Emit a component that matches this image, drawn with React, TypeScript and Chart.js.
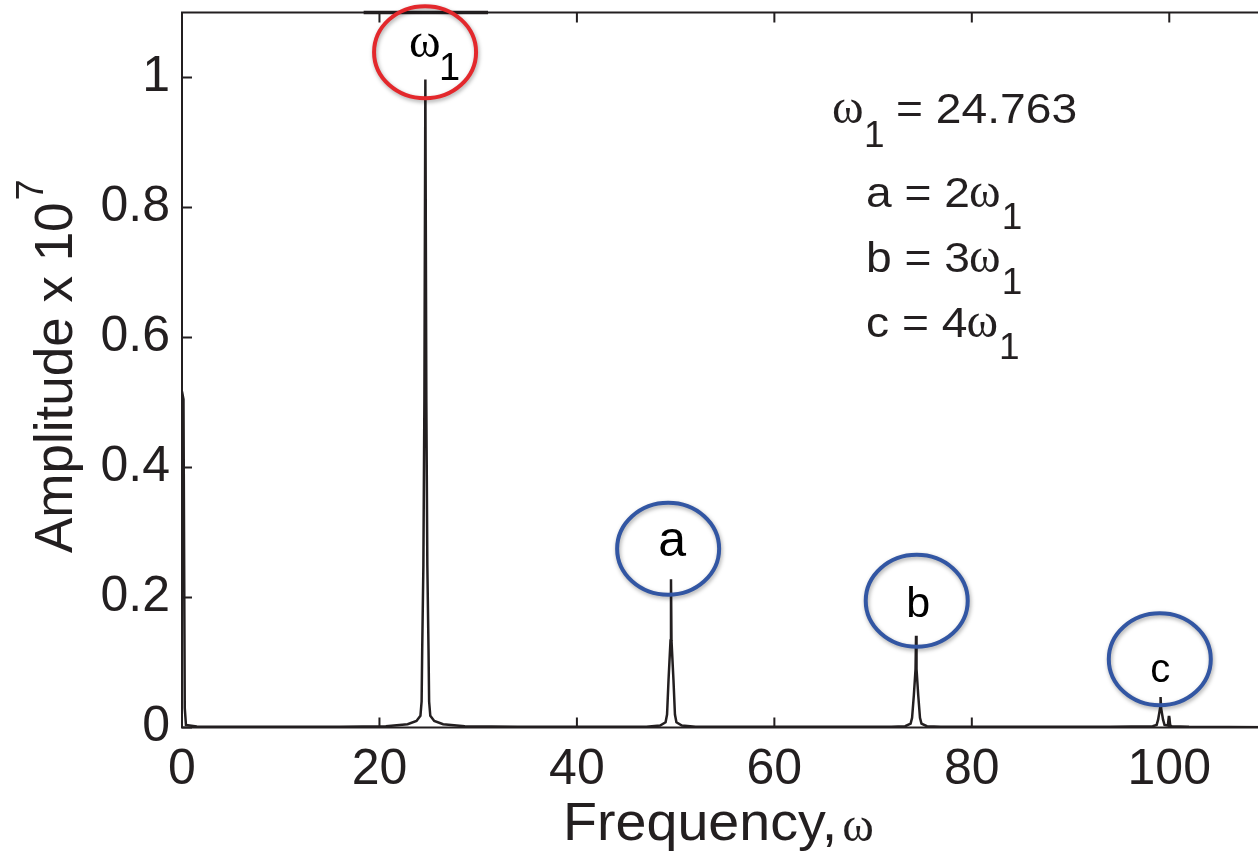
import React, { useEffect, useRef } from 'react';
import { Chart, registerables } from 'chart.js';

Chart.register(...registerables);

// ---- tick values ----
const xTickValues = [0, 20, 40, 60, 80, 100];
const yTickValues = [0, 0.2, 0.4, 0.6, 0.8, 1];

// ---- spectrum (frequency, amplitude x 1e7) ----
const dcFreq = [0, 0.15, 0.28, 0.4, 1.5, 8, 16];
const dcAmp = [0.517, 0.505, 0.03, 0.004, 0.0015, 0.001, 0.0012];

const fundFreq = [20.65, 22.85, 23.75, 24.15, 24.27, 24.33, 24.45, 24.55, 24.65, 24.75, 24.85, 24.97, 25.03, 25.15, 25.55, 26.45, 28.65, 34];
const fundAmp = [0.002, 0.005, 0.01, 0.018, 0.04, 0.12, 0.25, 0.5, 0.997, 0.5, 0.25, 0.12, 0.04, 0.018, 0.01, 0.005, 0.002, 0.001];

const harmAFreq = [44, 47.03, 48.43, 48.98, 49.13, 49.28, 49.48, 49.53, 49.58, 49.78, 49.93, 50.08, 50.63, 52.03, 57];
const harmAAmp = [0.001, 0.001, 0.003, 0.008, 0.02, 0.073, 0.134, 0.228, 0.134, 0.073, 0.02, 0.008, 0.003, 0.001, 0.001];

const harmBFreq = [69, 71.85, 73.25, 73.8, 73.95, 74.13, 74.3, 74.35, 74.4, 74.57, 74.75, 74.9, 75.45, 76.85, 82];
const harmBAmp = [0.001, 0.001, 0.002, 0.006, 0.015, 0.05, 0.09, 0.141, 0.09, 0.05, 0.015, 0.006, 0.002, 0.001, 0.001];

const harmCFreq = [94, 98.32, 98.72, 98.87, 99.07, 99.12, 99.17, 99.37, 99.52, 99.85, 99.95, 100.0, 100.1, 100.25, 102, 110];
const harmCAmp = [0.001, 0.002, 0.004, 0.012, 0.03, 0.047, 0.03, 0.012, 0.004, 0.003, 0.016, 0.016, 0.003, 0.002, 0.001, 0.0005];

// short black bar sitting on the top frame
const topMarkFreq = [18.4, 31.0];
const topMarkAmp = [1.1, 1.1];

// ---- annotation circles (data coordinates of their centres) ----
const circleLabels = ['ω1', 'a', 'b', 'c'];
const circleFreq = [24.62, 49.24, 74.42, 99.04];
const circleAmp = [1.039, 0.275, 0.195, 0.105];
const circleColors = ['#e3282c', '#3256a3', '#3256a3', '#3256a3'];

const INK = '#231f20';
const SANS = "'Liberation Sans', Arial, Helvetica, sans-serif";
const SERIF = "'Liberation Serif', 'Times New Roman', serif";

function zip(xs: number[], ys: number[]) {
  return xs.map((x, i) => ({ x, y: ys[i] }));
}

function txt(ctx: CanvasRenderingContext2D, s: string, x: number, y: number, font: string, sx = 1) {
  ctx.save();
  ctx.translate(x, y);
  ctx.scale(sx, 1);
  ctx.font = font;
  ctx.fillText(s, 0, 0);
  const w = ctx.measureText(s).width * sx;
  ctx.restore();
  return x + w;
}

const decorPlugin = {
  id: 'decor',
  afterDraw(chart: any) {
    const { ctx, chartArea: a, scales } = chart;
    const xs = scales.x;
    const ys = scales.y;
    ctx.save();
    // frame
    ctx.strokeStyle = INK;
    ctx.lineWidth = 2;
    ctx.strokeRect(a.left, a.top, a.right - a.left, a.bottom - a.top);
    // inward ticks
    const tl = 10;
    ctx.beginPath();
    for (const v of xTickValues) {
      const px = xs.getPixelForValue(v);
      ctx.moveTo(px, a.bottom);
      ctx.lineTo(px, a.bottom - tl);
      ctx.moveTo(px, a.top);
      ctx.lineTo(px, a.top + tl);
    }
    for (const v of yTickValues) {
      const py = ys.getPixelForValue(v);
      ctx.moveTo(a.left, py);
      ctx.lineTo(a.left + tl, py);
      ctx.moveTo(a.right, py);
      ctx.lineTo(a.right - tl, py);
    }
    ctx.stroke();

    // circles
    const rx = 51;
    const ry = 46;
    circleLabels.forEach((lab, i) => {
      const cx = xs.getPixelForValue(circleFreq[i]);
      const cy = ys.getPixelForValue(circleAmp[i]);
      ctx.save();
      ctx.shadowColor = 'rgba(0,0,0,0.35)';
      ctx.shadowBlur = 4;
      ctx.shadowOffsetX = 1;
      ctx.shadowOffsetY = 2;
      ctx.strokeStyle = circleColors[i];
      ctx.lineWidth = 4;
      ctx.beginPath();
      ctx.ellipse(cx, cy, rx, ry, 0, 0, Math.PI * 2);
      ctx.stroke();
      ctx.restore();

      ctx.fillStyle = '#000';
      ctx.textBaseline = 'alphabetic';
      if (lab === 'ω1') {
        ctx.textAlign = 'left';
        txt(ctx, 'ω', cx - 16, cy + 5, `48px ${SERIF}`);
        txt(ctx, '1', cx + 14, cy + 28, `38px ${SANS}`);
      } else {
        ctx.textAlign = 'center';
        const size = lab === 'a' ? 50 : lab === 'b' ? 43 : 40;
        const dx = lab === 'a' ? 4 : lab === 'b' ? 1.5 : 0.5;
        const dy = lab === 'a' ? 7 : lab === 'b' ? 16.5 : 23;
        txt(ctx, lab, cx + dx, cy + dy, `${size}px ${SANS}`);
      }
    });

    // text block
    ctx.fillStyle = INK;
    ctx.textAlign = 'left';
    ctx.textBaseline = 'alphabetic';
    const sans = `42px ${SANS}`;
    const sub = `37px ${SANS}`;
    const greek = `48px ${SERIF}`;
    txt(ctx, 'ω', 832, 123, greek);
    txt(ctx, '1', 864, 147, sub);
    txt(ctx, '= 24.763', 896, 123, sans, 1.1);
    const lines = ['a = 2', 'b = 3', 'c = 4'];
    const bases = [207, 272, 337];
    lines.forEach((s, i) => {
      const end = txt(ctx, s, 866, bases[i], sans, 1.1);
      const end2 = txt(ctx, 'ω', end - 1, bases[i], greek);
      txt(ctx, '1', end2 + 1, bases[i] + 22, sub);
    });

    // y axis title
    ctx.save();
    ctx.translate(72, 553);
    ctx.rotate(-Math.PI / 2);
    ctx.font = `53px ${SANS}`;
    ctx.fillText('Amplitude x 10', 0, 0);
    const w = ctx.measureText('Amplitude x 10').width;
    ctx.font = `38px ${SANS}`;
    ctx.fillText('7', w + 2, -29);
    ctx.restore();

    // x axis title
    const endF = txt(ctx, 'Frequency,', 563, 840, `53px ${SANS}`, 1.05);
    txt(ctx, 'ω', endF + 5, 841, `48px ${SERIF}`);

    ctx.restore();
  },
};

export default function App() {
  const ref = useRef<HTMLCanvasElement | null>(null);

  useEffect(() => {
    document.body.style.margin = '0';
    document.body.style.overflow = 'hidden';
    document.body.style.background = '#fff';
    const canvas = ref.current;
    if (!canvas) return;

    const spectrum = [
      ...zip(dcFreq, dcAmp),
      ...zip(fundFreq, fundAmp),
      ...zip(harmAFreq, harmAAmp),
      ...zip(harmBFreq, harmBAmp),
      ...zip(harmCFreq, harmCAmp),
    ];

    const chart = new Chart(canvas, {
      type: 'line',
      data: {
        datasets: [
          {
            data: spectrum,
            borderColor: INK,
            borderWidth: 2.5,
            pointRadius: 0,
            tension: 0,
            fill: false,
          },
          {
            data: zip(topMarkFreq, topMarkAmp),
            borderColor: INK,
            borderWidth: 3.5,
            pointRadius: 0,
            tension: 0,
            fill: false,
            clip: false as any,
          },
        ],
      },
      options: {
        responsive: false,
        maintainAspectRatio: false,
        devicePixelRatio: 1,
        animation: false,
        events: [],
        layout: { padding: { left: 0, top: 12.5, right: 2, bottom: 0 } },
        plugins: {
          legend: { display: false },
          tooltip: { enabled: false },
          title: { display: false },
        },
        scales: {
          x: {
            type: 'linear',
            min: 0,
            max: 110,
            grid: { display: false, drawTicks: false },
            border: { display: false },
            afterBuildTicks: (scale: any) => {
              scale.ticks = xTickValues.map((v) => ({ value: v }));
            },
            afterFit: (scale: any) => {
              scale.height = 854 - 727.5;
              scale.paddingLeft = 0;
              scale.paddingRight = 0;
            },
            ticks: {
              padding: 13,
              color: INK,
              maxRotation: 0,
              autoSkip: false,
              font: { family: SANS, size: 50 },
              callback: (v: any) => String(v),
            },
          },
          y: {
            type: 'linear',
            min: 0,
            max: 1.1,
            grid: { display: false, drawTicks: false },
            border: { display: false },
            afterBuildTicks: (scale: any) => {
              scale.ticks = yTickValues.map((v) => ({ value: v }));
            },
            afterFit: (scale: any) => {
              scale.width = 182;
              scale.paddingTop = 0;
              scale.paddingBottom = 0;
            },
            ticks: {
              padding: 12,
              color: INK,
              autoSkip: false,
              font: { family: SANS, size: 50 },
              callback: (v: any) => String(Number(Number(v).toFixed(1))),
            },
          },
        },
      },
      plugins: [decorPlugin],
    });

    return () => chart.destroy();
  }, []);

  return (
    <div style={{ width: 1270, height: 854, position: 'relative', overflow: 'hidden' }}>
      <canvas ref={ref} width={1270} height={854} style={{ display: 'block', width: 1270, height: 854 }} />
    </div>
  );
}
